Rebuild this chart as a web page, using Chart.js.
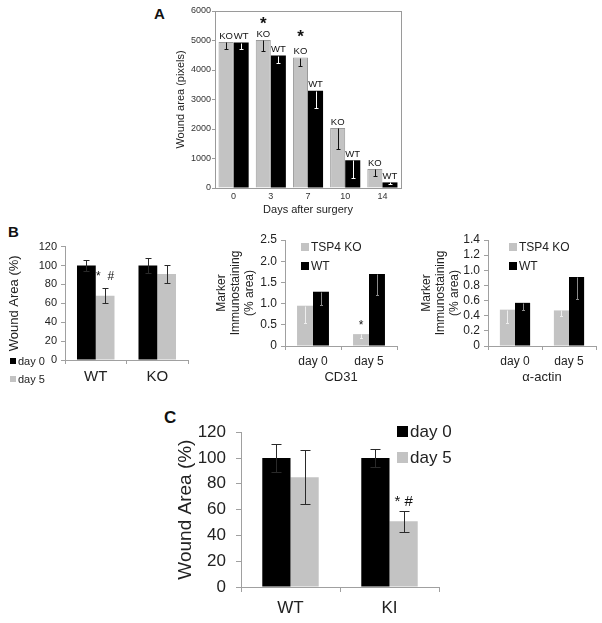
<!DOCTYPE html>
<html>
<head>
<meta charset="utf-8">
<script src="https://cdn.jsdelivr.net/npm/chart.js@4.4.1/dist/chart.umd.min.js"></script>
<style>
  body { margin: 0; background: #fff; width: 602px; height: 623px; position: relative; overflow: hidden;
         font-family: "Liberation Sans", Arial, sans-serif; color: #222; }
  canvas { position: absolute; }
  .panel { position: absolute; font-weight: bold; color: #111; }
  .leg { position: absolute; white-space: nowrap; color: #222; }
  .leg i { display: inline-block; vertical-align: middle; margin-right: 2px; position: relative; top: -1px; }
</style>
</head>
<body>
<div class="panel" style="left:154px;top:5px;font-size:15px;">A</div>
<div class="panel" style="left:8px;top:223px;font-size:15px;">B</div>
<div class="panel" style="left:164px;top:408px;font-size:17px;">C</div>

<canvas id="chartA" width="260" height="218" style="left:160px;top:0px"></canvas>
<canvas id="chartB1" width="192" height="164" style="left:0px;top:236px"></canvas>
<canvas id="chartB2" width="202" height="160" style="left:200px;top:226px"></canvas>
<canvas id="chartB3" width="202" height="160" style="left:400px;top:226px"></canvas>
<canvas id="chartC" width="300" height="211" style="left:160px;top:412px"></canvas>

<script>
// ---- panel A: wound area over time
var daysLabels = ['0', '3', '7', '10', '14'];
var areaKO = [4950, 5020, 4420, 2030, 640];
var areaWT = [4930, 4490, 3300, 940, 190];
var areaKOLow = [4720, 4650, 4120, 1310, 390];
var areaWTLow = [4720, 4240, 2720, 340, 150];

// ---- panel B left: wound area WT / KO
var groupsB = ['WT', 'KO'];
var woundDay0B = [100, 100];
var woundDay5B = [68, 91];
var errDay0B = [6, 8];
var errDay5B = [8, 9];

// ---- panel B middle / right: marker immunostaining
var dayLabels = ['day 0', 'day 5'];
var cd31KO = [0.95, 0.28];
var cd31WT = [1.28, 1.7];
var cd31KOLow = [0.55, 0.2];
var cd31WTLow = [0.97, 1.2];

var actinKO = [0.48, 0.47];
var actinWT = [0.57, 0.91];
var actinKOLow = [0.3, 0.4];
var actinWTLow = [0.47, 0.62];

// ---- panel C: wound area WT / KI
var groupsC = ['WT', 'KI'];
var woundDay0C = [100, 100];
var woundDay5C = [85, 51];
var errDay0C = [11, 7];
var errDay5C = [21, 8];

var GRAY = '#c3c3c3';
var BLACK = '#000';

Chart.defaults.font.family = "'Liberation Sans', Arial, sans-serif";
Chart.defaults.color = '#222';

function minus(v, e) { return v.map(function(x, i) { return x - e[i]; }); }
function plus(v, e) { return v.map(function(x, i) { return x + e[i]; }); }

// error bars: line from errHigh (or bar top) down to errLow, with caps
var errorBars = {
     id: 'errorBars',
     afterDatasetsDraw: function(chart) {
          var ctx = chart.ctx, y = chart.scales.y;
          chart.data.datasets.forEach(function(ds, i) {
               if (!ds.errLow) return;
               var meta = chart.getDatasetMeta(i);
               ctx.save();
               ctx.strokeStyle = ds.errColor;
               ctx.lineWidth = 1;
               meta.data.forEach(function(bar, j) {
                    var x = Math.round(bar.x) + 0.5;
                    var top = Math.round(y.getPixelForValue(ds.errHigh ? ds.errHigh[j] : ds.data[j])) + 0.5;
                    var bot = Math.round(y.getPixelForValue(ds.errLow[j])) + 0.5;
                    var c = ds.errCap / 2;
                    ctx.beginPath();
                    ctx.moveTo(x, top); ctx.lineTo(x, bot);
                    ctx.moveTo(x - c, bot); ctx.lineTo(x + c, bot);
                    if (ds.errHigh) { ctx.moveTo(x - c, top); ctx.lineTo(x + c, top); }
                    ctx.stroke();
               });
               ctx.restore();
          });
     }
};

// text over bars: series name on top of each bar, plus significance marks
var barText = {
     id: 'barText',
     afterDatasetsDraw: function(chart) {
          var ctx = chart.ctx, y = chart.scales.y;
          chart.data.datasets.forEach(function(ds, i) {
               var meta = chart.getDatasetMeta(i);
               ctx.save();
               ctx.textAlign = 'center';
               ctx.textBaseline = 'middle';
               ctx.fillStyle = '#111';
               if (ds.topLabel) {
                    ctx.font = ds.topLabelFont;
                    meta.data.forEach(function(bar) { ctx.fillText(ds.topLabel, bar.x, bar.y - 6); });
               }
               (ds.marks || []).forEach(function(m) {
                    ctx.font = m.font;
                    ctx.fillText(m.text, meta.data[m.idx].x, y.getPixelForValue(m.value));
               });
               ctx.restore();
          });
     }
};

var frameBox = {
     id: 'frameBox',
     afterDraw: function(chart) {
          var a = chart.chartArea, ctx = chart.ctx;
          ctx.save();
          ctx.strokeStyle = '#9a9a9a';
          ctx.lineWidth = 1;
          ctx.strokeRect(Math.round(a.left) + 0.5, Math.round(a.top) + 0.5,
               Math.round(a.right - a.left), Math.round(a.bottom - a.top));
          ctx.restore();
     }
};

function addLegend(x, y, step, items, size, box) {
     items.forEach(function(it, k) {
          var d = document.createElement('div');
          d.className = 'leg';
          d.style.left = x + 'px';
          d.style.top = (y + k * step - size * 0.6) + 'px';
          d.style.fontSize = size + 'px';
          d.style.lineHeight = (size * 1.2) + 'px';
          d.innerHTML = '<i style="width:' + box + 'px;height:' + box + 'px;background:' + it.color + '"></i>' + it.label;
          document.body.appendChild(d);
     });
}

// ---------------- A
new Chart('chartA', {
     type: 'bar',
     data: {
          labels: daysLabels,
          datasets: [
               {
                    label: 'KO', data: areaKO, backgroundColor: GRAY, borderColor: '#9a9a9a', borderWidth: 1,
                    barPercentage: 1, categoryPercentage: 0.81,
                    errLow: areaKOLow, errColor: '#111', errCap: 4,
                    topLabel: 'KO', topLabelFont: '9.5px "Liberation Sans", Arial',
                    marks: [
                         { idx: 1, value: 5560, text: '*', font: 'bold 17px "Liberation Sans", Arial' },
                         { idx: 2, value: 5120, text: '*', font: 'bold 17px "Liberation Sans", Arial' }
                    ]
               },
               {
                    label: 'WT', data: areaWT, backgroundColor: BLACK, borderWidth: 0,
                    barPercentage: 1, categoryPercentage: 0.81,
                    errLow: areaWTLow, errColor: '#fff', errCap: 4,
                    topLabel: 'WT', topLabelFont: '9.5px "Liberation Sans", Arial'
               }
          ]
     },
     options: {
          responsive: false,
          animation: false,
          layout: { padding: { left: 0, right: 19, top: 11, bottom: 0 } },
          plugins: { legend: { display: false }, tooltip: { enabled: false } },
          scales: {
               y: {
                    min: 0, max: 6000,
                    ticks: { stepSize: 1000, font: { size: 9 }, padding: 1, color: '#333', autoSkip: false,
                         callback: function(v) { return String(v); } },
                    grid: { drawOnChartArea: false, tickLength: 3, color: '#9a9a9a' },
                    border: { color: '#9a9a9a' },
                    title: { display: true, text: 'Wound area (pixels)', font: { size: 11 }, color: '#222', padding: { top: 14, bottom: 0 } },
                    afterFit: function(s) { s.width = 55; }
               },
               x: {
                    ticks: { font: { size: 9 }, padding: 3, color: '#333' },
                    grid: { display: false, drawTicks: false, tickLength: 0 },
                    border: { color: '#9a9a9a' },
                    title: { display: true, text: 'Days after surgery', font: { size: 11 }, color: '#222', padding: { top: 0, bottom: 1 } },
                    afterFit: function(s) { s.height = 30; }
               }
          }
     },
     plugins: [errorBars, barText, frameBox]
});

// excel style axes shared by panels B and C
function excelScales(o) {
     return {
          y: {
               min: 0, max: o.max,
               ticks: { stepSize: o.step, font: { size: o.tickSize }, padding: o.tickPad, color: '#222', autoSkip: false },
               grid: { drawOnChartArea: false, tickLength: o.tickLen, color: '#a0a0a0' },
               border: { color: '#a0a0a0' },
               title: { display: true, text: o.yTitle, font: { size: o.titleSize }, color: '#222', padding: { top: o.titlePad, bottom: 0 } },
               afterFit: function(s) { s.width = o.yWidth; }
          },
          x: {
               ticks: { font: { size: o.xSize }, padding: o.xPad, color: '#222' },
               grid: { drawOnChartArea: false, offset: true, tickLength: o.tickLen, color: '#a0a0a0' },
               border: { color: '#a0a0a0' },
               title: { display: !!o.xTitle, text: o.xTitle || '', font: { size: 13 }, color: '#222', padding: { top: 0, bottom: 1 } },
               afterFit: function(s) { s.height = o.xHeight; }
          }
     };
}

// ---------------- B left
new Chart('chartB1', {
     type: 'bar',
     data: {
          labels: groupsB,
          datasets: [
               {
                    label: 'day 0', data: woundDay0B, backgroundColor: BLACK,
                    barPercentage: 1, categoryPercentage: 0.61,
                    errLow: minus(woundDay0B, errDay0B), errHigh: plus(woundDay0B, errDay0B), errColor: '#2a2a2a', errCap: 6
               },
               {
                    label: 'day 5', data: woundDay5B, backgroundColor: GRAY,
                    barPercentage: 1, categoryPercentage: 0.61,
                    errLow: minus(woundDay5B, errDay5B), errHigh: plus(woundDay5B, errDay5B), errColor: '#2a2a2a', errCap: 6,
                    marks: [{ idx: 0, value: 88, text: '*  #', font: '12px "Liberation Sans", Arial' }]
               }
          ]
     },
     options: {
          responsive: false, animation: false,
          layout: { padding: { left: 0, right: 4, top: 8, bottom: 0 } },
          plugins: { legend: { display: false }, tooltip: { enabled: false } },
          scales: excelScales({ max: 120, step: 20, tickSize: 11, tickPad: 4, tickLen: 4, yTitle: 'Wound Area (%)',
               titleSize: 13, titlePad: 7, yWidth: 65, xSize: 15, xPad: 4, xHeight: 40 })
     },
     plugins: [errorBars, barText]
});

// ---------------- B middle: CD31
new Chart('chartB2', {
     type: 'bar',
     data: {
          labels: dayLabels,
          datasets: [
               {
                    label: 'TSP4 KO', data: cd31KO, backgroundColor: GRAY,
                    barPercentage: 1, categoryPercentage: 0.57,
                    errLow: cd31KOLow, errColor: '#eeeeee', errCap: 3,
                    marks: [{ idx: 1, value: 0.47, text: '*', font: '12px "Liberation Sans", Arial' }]
               },
               {
                    label: 'WT', data: cd31WT, backgroundColor: BLACK,
                    barPercentage: 1, categoryPercentage: 0.57,
                    errLow: cd31WTLow, errColor: '#8a8a8a', errCap: 3
               }
          ]
     },
     options: {
          responsive: false, animation: false,
          layout: { padding: { left: 0, right: 5, top: 14, bottom: 0 } },
          plugins: { legend: { display: false }, tooltip: { enabled: false } },
          scales: excelScales({ max: 2.5, step: 0.5, tickSize: 12, tickPad: 4, tickLen: 4,
               yTitle: ['Marker', 'Immunostaining', '(% area)'], titleSize: 12, titlePad: 14, yWidth: 85,
               xSize: 12, xPad: 4, xHeight: 40, xTitle: 'CD31' })
     },
     plugins: [errorBars, barText]
});

// ---------------- B right: alpha-actin
new Chart('chartB3', {
     type: 'bar',
     data: {
          labels: dayLabels,
          datasets: [
               {
                    label: 'TSP4 KO', data: actinKO, backgroundColor: GRAY,
                    barPercentage: 1, categoryPercentage: 0.56,
                    errLow: actinKOLow, errColor: '#eeeeee', errCap: 3
               },
               {
                    label: 'WT', data: actinWT, backgroundColor: BLACK,
                    barPercentage: 1, categoryPercentage: 0.56,
                    errLow: actinWTLow, errColor: '#8a8a8a', errCap: 3
               }
          ]
     },
     options: {
          responsive: false, animation: false,
          layout: { padding: { left: 0, right: 6, top: 14, bottom: 0 } },
          plugins: { legend: { display: false }, tooltip: { enabled: false } },
          scales: excelScales({ max: 1.4, step: 0.2, tickSize: 12, tickPad: 4, tickLen: 4,
               yTitle: ['Marker', 'Immunostaining', '(% area)'], titleSize: 12, titlePad: 19, yWidth: 88,
               xSize: 12, xPad: 4, xHeight: 40, xTitle: 'α-actin' })
     },
     plugins: [errorBars, barText]
});

// ---------------- C
new Chart('chartC', {
     type: 'bar',
     data: {
          labels: groupsC,
          datasets: [
               {
                    label: 'day 0', data: woundDay0C, backgroundColor: BLACK,
                    barPercentage: 1, categoryPercentage: 0.57,
                    errLow: minus(woundDay0C, errDay0C), errHigh: plus(woundDay0C, errDay0C), errColor: '#2a2a2a', errCap: 10
               },
               {
                    label: 'day 5', data: woundDay5C, backgroundColor: GRAY,
                    barPercentage: 1, categoryPercentage: 0.57,
                    errLow: minus(woundDay5C, errDay5C), errHigh: plus(woundDay5C, errDay5C), errColor: '#2a2a2a', errCap: 10,
                    marks: [{ idx: 1, value: 66, text: '* #', font: '15px "Liberation Sans", Arial' }]
               }
          ]
     },
     options: {
          responsive: false, animation: false,
          layout: { padding: { left: 0, right: 21, top: 14, bottom: 0 } },
          plugins: { legend: { display: false }, tooltip: { enabled: false } },
          scales: excelScales({ max: 120, step: 20, tickSize: 17, tickPad: 10, tickLen: 5, yTitle: 'Wound Area (%)',
               titleSize: 19, titlePad: 14, yWidth: 81, xSize: 17, xPad: 6, xHeight: 36 })
     },
     plugins: [errorBars, barText]
});

// legends (same labels as the datasets)
addLegend(10, 362, 18, [{ label: 'day 0', color: BLACK }, { label: 'day 5', color: GRAY }], 11, 6);
addLegend(301, 247, 19, [{ label: 'TSP4 KO', color: GRAY }, { label: 'WT', color: BLACK }], 12, 8);
addLegend(509, 247, 19, [{ label: 'TSP4 KO', color: GRAY }, { label: 'WT', color: BLACK }], 12, 8);
addLegend(397, 432, 26, [{ label: 'day 0', color: BLACK }, { label: 'day 5', color: GRAY }], 17, 11);
</script>
</body>
</html>
